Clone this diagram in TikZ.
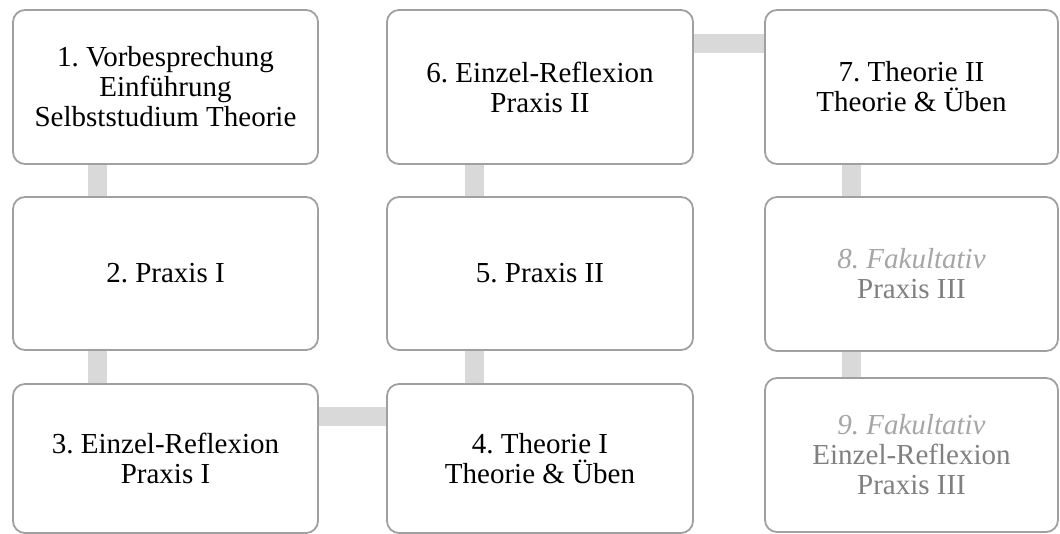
\documentclass[tikz,border=0pt]{standalone}
\usepackage{fontspec}
\setmainfont{Liberation Serif}
\usetikzlibrary{backgrounds}
\definecolor{boxline}{RGB}{160,160,160}
\definecolor{connfill}{RGB}{217,217,217}
\definecolor{faint}{RGB}{128,128,128}
\definecolor{fainter}{RGB}{166,166,166}
\tikzset{
  stepbox/.style={draw=boxline, line width=1.8pt, fill=white, rounded corners=12pt,
    inner sep=0pt, align=center, font=\fontsize{29}{30}\selectfont\frenchspacing},
  conn/.style={draw=connfill, line width=19pt}
}
\begin{document}
\begin{tikzpicture}[x=1pt,y=-1pt]
\useasboundingbox (0,0) rectangle (1060,534);
% column 1
\node[stepbox, minimum width=305pt, minimum height=154pt] (b1) at (165.5,87) {1. Vorbesprechung\\Einführung\\Selbststudium Theorie};
\node[stepbox, minimum width=305pt, minimum height=153pt] (b2) at (165.5,273.5) {2. Praxis I};
\node[stepbox, minimum width=305pt, minimum height=149pt] (b3) at (165.5,458.5) {3. Einzel-Reflexion\\Praxis I};
% column 2
\node[stepbox, minimum width=306pt, minimum height=149pt] (b4) at (540,458.5) {4. Theorie I\\Theorie \& Üben};
\node[stepbox, minimum width=306pt, minimum height=153pt] (b5) at (540,273.5) {5. Praxis II};
\node[stepbox, minimum width=306pt, minimum height=154pt] (b6) at (540,87) {6. Einzel-Reflexion\\Praxis II};
% column 3
\node[stepbox, minimum width=293pt, minimum height=154pt] (b7) at (911.5,87) {7. Theorie II\\Theorie \& Üben};
\node[stepbox, minimum width=293pt, minimum height=154pt] (b8) at (911.5,274) {{\color{fainter}\itshape 8. Fakultativ}\\{\color{faint}Praxis III}};
\node[stepbox, minimum width=293pt, minimum height=154pt] (b9) at (911.5,455) {{\color{fainter}\itshape 9. Fakultativ}\\{\color{faint}Einzel-Reflexion}\\{\color{faint}Praxis III}};
% connectors
\begin{scope}[on background layer]
\draw[conn] ([xshift=85pt]b1.south west) -- ([xshift=85pt]b2.north west);
\draw[conn] ([xshift=85pt]b2.south west) -- ([xshift=85pt]b3.north west);
\draw[conn] ([yshift=-33pt]b3.north east) -- ([yshift=-33pt]b4.north west);
\draw[conn] ([xshift=88pt]b4.north west) -- ([xshift=88pt]b5.south west);
\draw[conn] ([xshift=88pt]b5.north west) -- ([xshift=88pt]b6.south west);
\draw[conn] ([yshift=-34pt]b6.north east) -- ([yshift=-34pt]b7.north west);
\draw[conn] ([xshift=87pt]b7.south west) -- ([xshift=87pt]b8.north west);
\draw[conn] ([xshift=87pt]b8.south west) -- ([xshift=87pt]b9.north west);
\end{scope}
\end{tikzpicture}
\end{document}
